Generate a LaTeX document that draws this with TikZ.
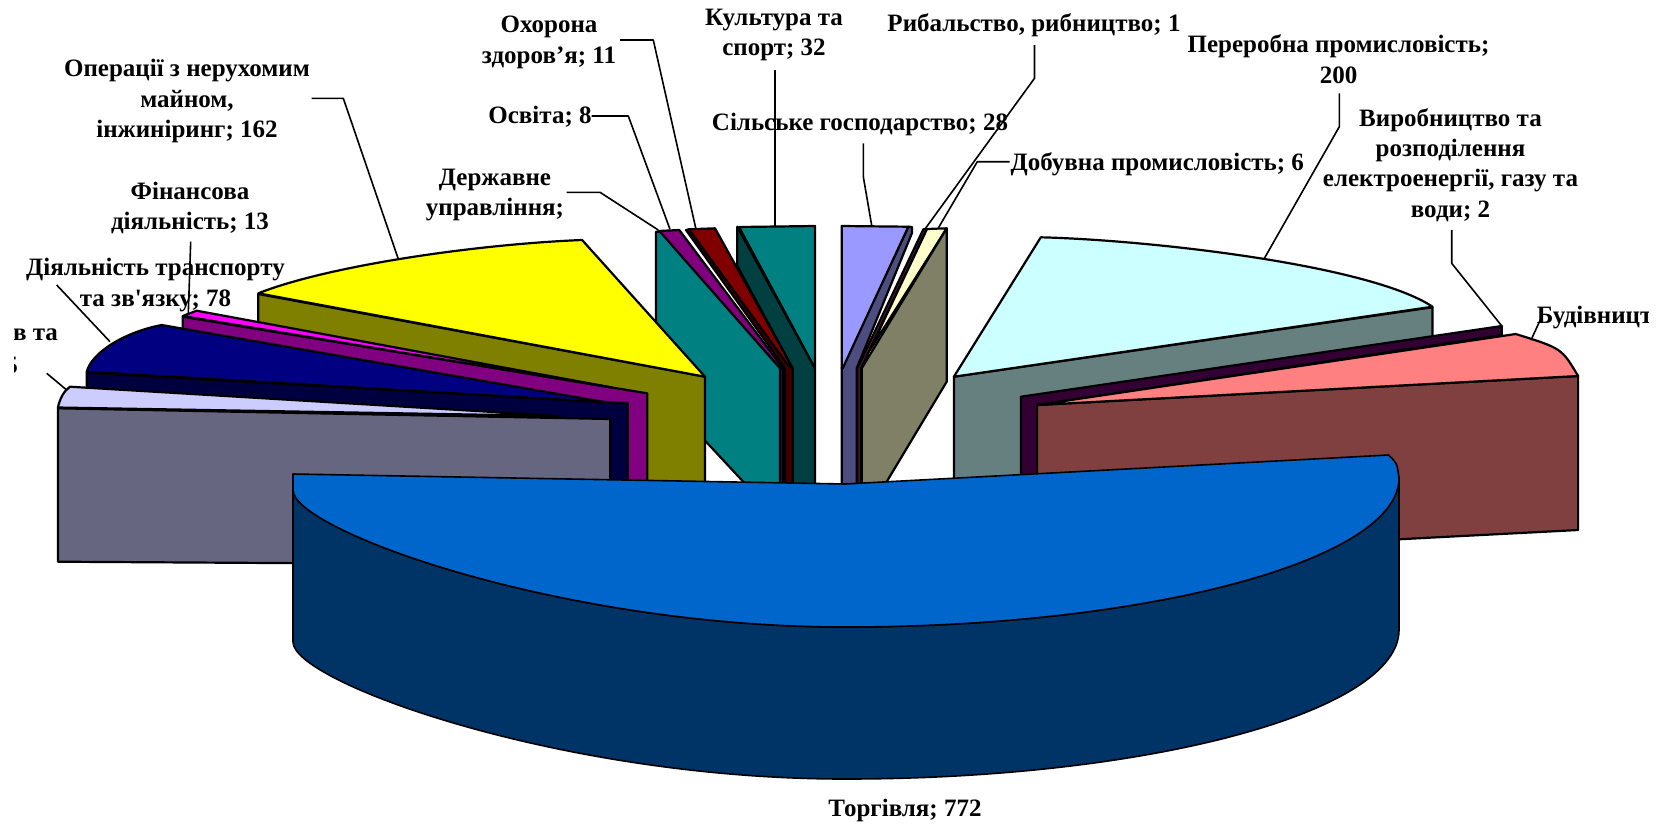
\documentclass[tikz,border=0pt]{standalone}
\usepackage{fontspec}
\setmainfont{Liberation Serif}
\definecolor{torgtop}{HTML}{0066CC}
\definecolor{torgside}{HTML}{003366}
\definecolor{hottop}{HTML}{CCCCFF}
\definecolor{hotside}{HTML}{666680}
\definecolor{trantop}{HTML}{000080}
\definecolor{transide}{HTML}{000040}
\definecolor{fintop}{HTML}{FF00FF}
\definecolor{finside}{HTML}{800080}
\definecolor{optop}{HTML}{FFFF00}
\definecolor{opside}{HTML}{808000}
\definecolor{derzh}{HTML}{008080}
\definecolor{osvtop}{HTML}{800080}
\definecolor{osvside}{HTML}{400040}
\definecolor{ohortop}{HTML}{800000}
\definecolor{ohorside}{HTML}{400000}
\definecolor{kulttop}{HTML}{008080}
\definecolor{kultside}{HTML}{004040}
\definecolor{siltop}{HTML}{9999FF}
\definecolor{silside}{HTML}{4D4D80}
\definecolor{rybside}{HTML}{4D1A33}
\definecolor{dobtop}{HTML}{FFFFCC}
\definecolor{dobside}{HTML}{808066}
\definecolor{pertop}{HTML}{CCFFFF}
\definecolor{perside}{HTML}{668080}
\definecolor{vyrside}{HTML}{330033}
\definecolor{budtop}{HTML}{FF8080}
\definecolor{budside}{HTML}{804040}

\begin{document}
\begin{tikzpicture}[x=0.5pt,y=-0.5pt,line join=round,
    slice/.style={draw=black,line width=1.1pt},
    lead/.style={draw=black,line width=0.8pt},
    lbl/.style={inner sep=0pt,align=center,font=\bfseries\fontsize{12.5}{15.2}\selectfont}]
  %%%%% START %%%%%
  \def\bot{490}
  \useasboundingbox (0,0) rectangle (1665,826);

  % centre, left of the gap
  \draw[slice,fill=kultside] (737.3,226.7) -- (815,368.3) -- (815,\bot) -- (792.7,\bot) -- (792.7,368.3) -- (737.3,266) -- cycle;
  \draw[slice,fill=kulttop] (739,227) -- (815,226) -- (815,368.3) -- cycle;
  \draw[slice,fill=ohorside] (686,230) -- (689,229.3) -- (786.7,363.3) -- (792.7,368.3) -- (792.7,\bot) -- (785,\bot) -- (785,368.3) -- cycle;
  \draw[slice,fill=ohortop] (689,229.3) -- (715,228.3) -- (792.7,368.3) -- (786.7,363.3) -- cycle;
  \draw[slice,fill=osvside] (780,368.3) -- (783,368.3) -- (783,\bot) -- (780,\bot) -- cycle;
  \draw[slice,fill=osvtop] (658.3,231) -- (679.3,230) -- (783,368.3) -- (780,368.3) -- cycle;
  \draw[slice,fill=derzh] (656,231.7) -- (660,231.7) -- (780,368.3) -- (780,\bot) -- (751,\bot) -- (656,388) -- cycle;

  % centre, right of the gap
  \draw[slice,fill=silside] (908.3,226.7) -- (912,227) -- (912,233) -- (856.7,368.3) -- (856.7,\bot) -- (841.7,\bot) -- (841.7,368.3) -- cycle;
  \draw[slice,fill=siltop] (841.7,226) -- (908.3,226.7) -- (842.7,368.3) -- (841.7,368.3) -- cycle;
  \draw[slice,fill=rybside] (923.3,229.3) -- (927,229) -- (861,368.3) -- (861,\bot) -- (857.3,\bot) -- (857.3,368.3) -- cycle;
  \draw[slice,fill=dobtop] (927,229) -- (946.7,228.3) -- (870,350) -- cycle;
  \draw[slice,fill=dobside] (946.7,228.3) -- (946.7,381.7) -- (881.7,\bot) -- (861.7,\bot) -- (861.7,368.3) -- cycle;

  % right slices
  \draw[slice,fill=perside] (953.9,376.7) -- (1432.5,307.3) -- (1432.5,\bot) -- (953.9,\bot) -- cycle;
  \draw[slice,fill=pertop] (953.9,376.7) -- (1040.8,237.3) .. controls (1150,240) and (1370,265) .. (1432.5,306.7) -- cycle;
  \draw[slice,fill=vyrside] (1020.9,396.7) -- (1501.8,326) -- (1501.8,335) -- (1037.1,405) -- (1037.1,\bot) -- (1020.9,\bot) -- cycle;
  \draw[slice,fill=budside] (1037.1,405) -- (1578.1,376) -- (1578.1,530) -- (1037.1,558) -- cycle;
  \draw[slice,fill=budtop] (1037.1,405) -- (1515.7,334) .. controls (1561.7,348.3) .. (1578.1,376) -- cycle;

  % left slices
  \draw[slice,fill=opside] (258.3,294) -- (705,376.7) -- (705,\bot) -- (258.3,\bot) -- cycle;
  \draw[slice,fill=optop] (258.3,293.3) .. controls (330,265) and (480,244) .. (582.1,240) -- (705,376.7) -- cycle;
  \draw[slice,fill=finside] (182.7,316.7) -- (647.2,393.3) -- (647.2,\bot) -- (182.7,\bot) -- cycle;
  \draw[slice,fill=fintop] (182.7,316) -- (196.7,310.7) -- (612,387.5) -- cycle;
  \draw[slice,fill=transide] (86.7,372.7) -- (627.7,403.3) -- (627.7,\bot) -- (86.7,\bot) -- cycle;
  \draw[slice,fill=trantop] (86.7,371.7) .. controls (92,352) and (125,332) .. (161.7,325) -- (604,402) -- cycle;
  \draw[slice,fill=hotside] (57.9,408.3) -- (610.3,419) -- (610.3,565) -- (57.9,561.7) -- cycle;
  \draw[slice,fill=hottop] (57.9,407.5) .. controls (60,398) and (64,391) .. (70,386.7) -- (560,416) -- cycle;

  % trade, in front
  \draw[slice,line width=0.8pt,fill=torgside] (1399,478) .. controls (1399,559.4) and (1151,627) .. (845,627)
    .. controls (560,627) and (293,530) .. (293,490) -- (293,642)
    .. controls (293,682) and (560,779) .. (845,779) .. controls (1151,779) and (1399,711.4) .. (1399,630) -- cycle;
  \draw[slice,line width=0.8pt,fill=torgtop] (845.4,484) -- (1388.5,455) .. controls (1397,463) .. (1399,478)
    .. controls (1399,559.4) and (1151,627) .. (845,627) .. controls (560,627) and (293,530) .. (293,490) -- (293,474) -- cycle;

  % labels
  \begin{scope}
    \clip (14,0) rectangle (1648,826);
    \node[lbl] (op) at (187,101) {Операції з нерухомим\\майном,\\інжиніринг; 162};
    \node[lbl] (fin) at (190,208) {Фінансова\\діяльність; 13};
    \node[lbl] (tran) at (155.5,285) {Діяльність транспорту\\та зв\textquotesingle язку; 78};
    \node[lbl,anchor=east] (hot) at (58.3,335) {в та};
    \node[lbl,anchor=east] (hotb) at (18.3,365) {5};
    \node[lbl] (derzhl) at (495,195) {Державне\\управління;};
    \node[lbl] (osv) at (540,116.7) {Освіта; 8};
    \node[lbl] (ohor) at (549,42.5) {Охорона\\здоров’я; 11};
    \node[lbl] (kult) at (774,35) {Культура та\\спорт; 32};
    \node[lbl] (sil) at (860,124) {Сільське господарство; 28};
    \node[lbl] (ryb) at (1034,25) {Рибальство, рибництво; 1};
    \node[lbl] (dob) at (1157.3,164) {Добувна промисловість; 6};
    \node[lbl] (per) at (1338.5,59) {Переробна промисловість;\\200};
    \node[lbl] (vyr) at (1450.5,165) {Виробництво та\\розподілення\\електроенергії, газу та\\води; 2};
    \node[lbl,anchor=west] (bud) at (1536.5,317.5) {Будівництво};
    \node[lbl] (torg) at (905,810) {Торгівля; 772};
  \end{scope}

  % leaders
  \draw[lead] (311.7,98.3) -- (343.3,98.3) -- (398.3,259);
  \draw[lead] (190.7,241.7) -- (188.3,313.3);
  \draw[lead] (56.7,285) -- (110,341.7);
  \draw[lead] (46.7,373.3) -- (66.7,390);
  \draw[lead] (566.7,192.3) -- (600,192.3) -- (658.3,230);
  \draw[lead] (591.7,116) -- (628.3,116) -- (670,229.3);
  \draw[lead] (620,40) -- (653.3,40) -- (696,229.3);
  \draw[lead] (775,70) -- (775,226.7);
  \draw[lead] (863.3,143.3) -- (863.3,176.7) -- (871.7,225.5);
  \draw[lead] (1034.5,45) -- (1034.5,78.3) -- (925,229);
  \draw[lead] (1009.5,161.7) -- (977.3,161.7) -- (938,228.5);
  \draw[lead] (1339.3,93.3) -- (1339.3,126.7) -- (1263.7,259.5);
  \draw[lead] (1451.7,230) -- (1451.7,263.3) -- (1501.8,326);
  \draw[lead] (1541,318.3) -- (1531,340);
  %%%%% END %%%%%
\end{tikzpicture}
\end{document}
